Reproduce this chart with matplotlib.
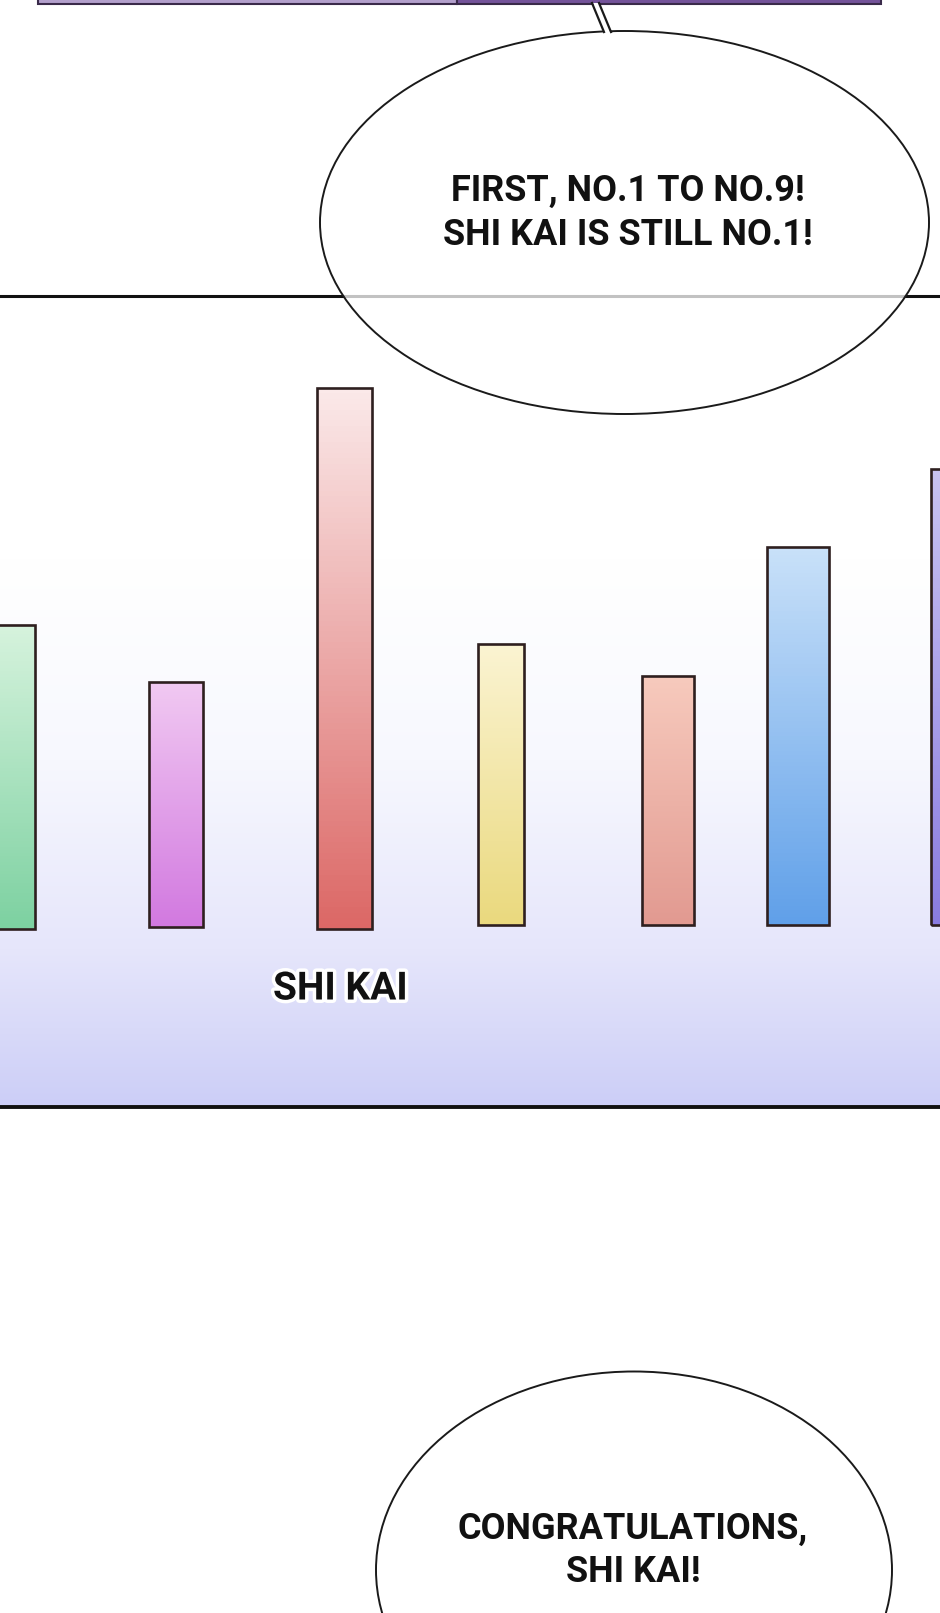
import numpy as np
import matplotlib.pyplot as plt
from matplotlib.patches import Ellipse, Rectangle, Polygon
from matplotlib.colors import to_rgb
import matplotlib.patheffects as pe

W, H = 940, 1613

# bars, in panel pixels measured up from the panel's bottom edge
names = ['', '', 'SHI KAI', '', '', '', '']
centers = [9, 176, 344.5, 501, 668, 798, 960]
widths = [52, 54, 55, 46, 52, 62, 58]
bottoms = [178, 180, 178, 182, 182, 182, 182]
heights = [304, 245, 541, 281, 249, 378, 456]
top_cols = ['#d6f3dd', '#f1c9f2', '#fbe9e9', '#fbf4d2', '#f7cabd', '#c9e1f9', '#c9c3f1']
bot_cols = ['#7dd1a1', '#d279e0', '#dc6866', '#ead97e', '#e29a91', '#60a0e9', '#8a7ce0']

bubble1_lines = ['FIRST, NO.1 TO NO.9!', 'SHI KAI IS STILL NO.1!']
bubble2_lines = ['CONGRATULATIONS,', 'SHI KAI!']

FONT = ['Roboto', 'DejaVu Sans']
panel_top, panel_bot = 296, 1107
ph = panel_bot - panel_top

fig = plt.figure(figsize=(W / 100, H / 100), dpi=100)
fig.patch.set_facecolor('white')

bg = fig.add_axes([0, 0, 1, 1])
bg.set_xlim(0, W)
bg.set_ylim(H, 0)
bg.axis('off')

# panel with the bar chart
pax = fig.add_axes([0, 1 - panel_bot / H, 1, ph / H])
pax.set_xlim(0, W)
pax.set_ylim(0, ph)
pax.axis('off')

# background: white on top, lavender towards the bottom
ys = np.linspace(panel_bot, panel_top, 400)
stop_y = [296, 560, 760, 950, 1107]
stop_c = np.array([[255, 255, 255], [255, 255, 255], [247, 248, 254],
                   [230, 230, 251], [204, 206, 247]]) / 255
grad = np.stack([np.interp(ys, stop_y, stop_c[:, k]) for k in range(3)], axis=-1)
pax.imshow(grad[:, None, :], extent=[0, W, 0, ph], aspect='auto',
           origin='lower', zorder=0)

bars = pax.bar(centers, heights, width=widths, bottom=bottoms, color='none',
               edgecolor='#2e1f1f', linewidth=1.9, zorder=3)
for b, c0, c1 in zip(bars, top_cols, bot_cols):
    t = np.linspace(0, 1, 100)[:, None]
    col = np.array(to_rgb(c1)) * (1 - t) + np.array(to_rgb(c0)) * t
    x0, y0 = b.get_x(), b.get_y()
    im = pax.imshow(col[:, None, :], extent=[x0, x0 + b.get_width(), y0, y0 + b.get_height()],
                    aspect='auto', origin='lower', zorder=2)
    im.set_clip_path(b)
pax.set_xlim(0, W)
pax.set_ylim(0, ph)

for name, c, btm in zip(names, centers, bottoms):
    if name:
        pax.text(c - 4, btm - 60, name, ha='center', va='center', fontsize=28,
                 family=FONT, fontweight='bold', color='#111111', zorder=5,
                 path_effects=[pe.withStroke(linewidth=5, foreground='white')])

# overlay: panel borders, bubbles, top strip
fg = fig.add_axes([0, 0, 1, 1])
fg.set_xlim(0, W)
fg.set_ylim(H, 0)
fg.axis('off')
fg.patch.set_visible(False)

fg.plot([0, W], [panel_top, panel_top], color='#111111', lw=2.2, zorder=1)
fg.plot([0, W], [panel_bot, panel_bot], color='#111111', lw=2.8, zorder=1)

# strip of the previous panel
fg.add_patch(Rectangle((38, -6), 419, 9.5, facecolor='#b3a0cc', edgecolor='#3a2a4a', lw=1.5, zorder=2))
fg.add_patch(Rectangle((457, -6), 424, 9.5, facecolor='#74539a', edgecolor='#3a2a4a', lw=1.5, zorder=2))

# first bubble
fg.add_patch(Ellipse((624.5, 222.5), 609, 383, facecolor=(1, 1, 1, 0.75),
                     edgecolor='#1a1a1a', lw=1.4, zorder=3))
fg.add_patch(Polygon([(593, 3), (599, 3), (611, 34), (604, 34)], closed=True,
                     facecolor='white', edgecolor='none', zorder=4))
fg.plot([592, 604], [3, 32], color='#1a1a1a', lw=1.6, zorder=5)
fg.plot([599, 611], [3, 32], color='#1a1a1a', lw=1.6, zorder=5)
for i, line in enumerate(bubble1_lines):
    fg.text(628, 191 + 44 * i, line, ha='center', va='center', fontsize=26,
            family=FONT, fontweight='bold', color='#111111', zorder=6)

# second bubble
fg.add_patch(Ellipse((634, 1570), 516, 397, facecolor='white',
                     edgecolor='#1a1a1a', lw=1.4, zorder=3))
for i, line in enumerate(bubble2_lines):
    fg.text(633, 1529 + 43 * i, line, ha='center', va='center', fontsize=26,
            family=FONT, fontweight='bold', color='#111111', zorder=6)

fig.savefig('out.png', dpi=100)
